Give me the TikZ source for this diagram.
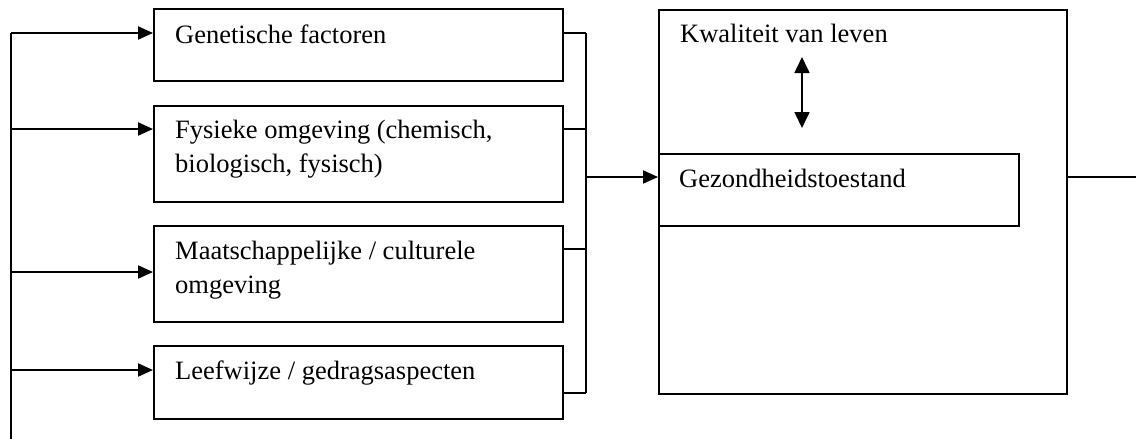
\documentclass[tikz,border=0pt]{standalone}
\usepackage{fontspec}
\setmainfont{Liberation Serif}
\usetikzlibrary{arrows.meta}
\begin{document}
\begin{tikzpicture}[x=1pt,y=-1pt,
  box/.style={draw, line width=2pt, anchor=north west, inner sep=0pt},
  lbl/.style={font=\fontsize{26.5}{34}\selectfont, inner sep=0pt, align=left, anchor=base west},
  ln/.style={line width=2pt},
  arr/.style={line width=2pt, -{Triangle[length=15pt,width=13pt]}},
  darr/.style={line width=1.6pt, {Triangle[length=16pt,width=15pt]}-{Triangle[length=16pt,width=15pt]}}]
\useasboundingbox (0,0) rectangle (1136,439);
% left boxes
\node[box, minimum width=409, minimum height=72] (b1) at (153,8) {};
\node[box, minimum width=409, minimum height=96] (b2) at (153,105) {};
\node[box, minimum width=409, minimum height=96] (b3) at (153,225) {};
\node[box, minimum width=409, minimum height=73] (b4) at (153,345) {};
\node[lbl] (t1) at (175,43) {Genetische factoren};
\node[lbl] (t2) at (175,172) {Fysieke omgeving (chemisch,\\biologisch, fysisch)};
\node[lbl] (t3) at (175,293) {Maatschappelijke / culturele\\omgeving};
\node[lbl] (t4) at (175,379) {Leefwijze / gedragsaspecten};
% right boxes
\node[box, minimum width=408, minimum height=384] (big) at (658,9) {};
\node[box, minimum width=360, minimum height=72] (gz) at (658,153) {};
\node[lbl] (kl) at (680,42) {Kwaliteit van leven};
\node[lbl] (gt) at (679,187) {Gezondheidstoestand};
% left feedback line
\coordinate (L0) at (11,439);
\coordinate (L1) at (11,33);
\coordinate (L2) at (11,129);
\coordinate (L3) at (11,272);
\coordinate (L4) at (11,370);
\draw[ln] (L0) -- (L1);
\draw[arr] (L1) -- (L1 -| b1.west);
\draw[arr] (L2) -- (L2 -| b2.west);
\draw[arr] (L3) -- (L3 -| b3.west);
\draw[arr] (L4) -- (L4 -| b4.west);
% right bus
\coordinate (R1) at (586,33);
\coordinate (R2) at (586,129);
\coordinate (R3) at (586,249);
\coordinate (R4) at (586,393);
\coordinate (RM) at (586,177);
\draw[ln] (R1) -- (R4);
\draw[ln] (R1) -- (R1 -| b1.east);
\draw[ln] (R2) -- (R2 -| b2.east);
\draw[ln] (R3) -- (R3 -| b3.east);
\draw[ln] (R4) -- (R4 -| b4.east);
\draw[arr] (RM) -- (RM -| gz.west);
% output line
\coordinate (out) at (1136,177);
\draw[ln] (out -| big.east) -- (out);
% double arrow
\coordinate (d1) at (802,57);
\coordinate (d2) at (802,128);
\draw[darr] (d1) -- (d2);
\end{tikzpicture}
\end{document}
